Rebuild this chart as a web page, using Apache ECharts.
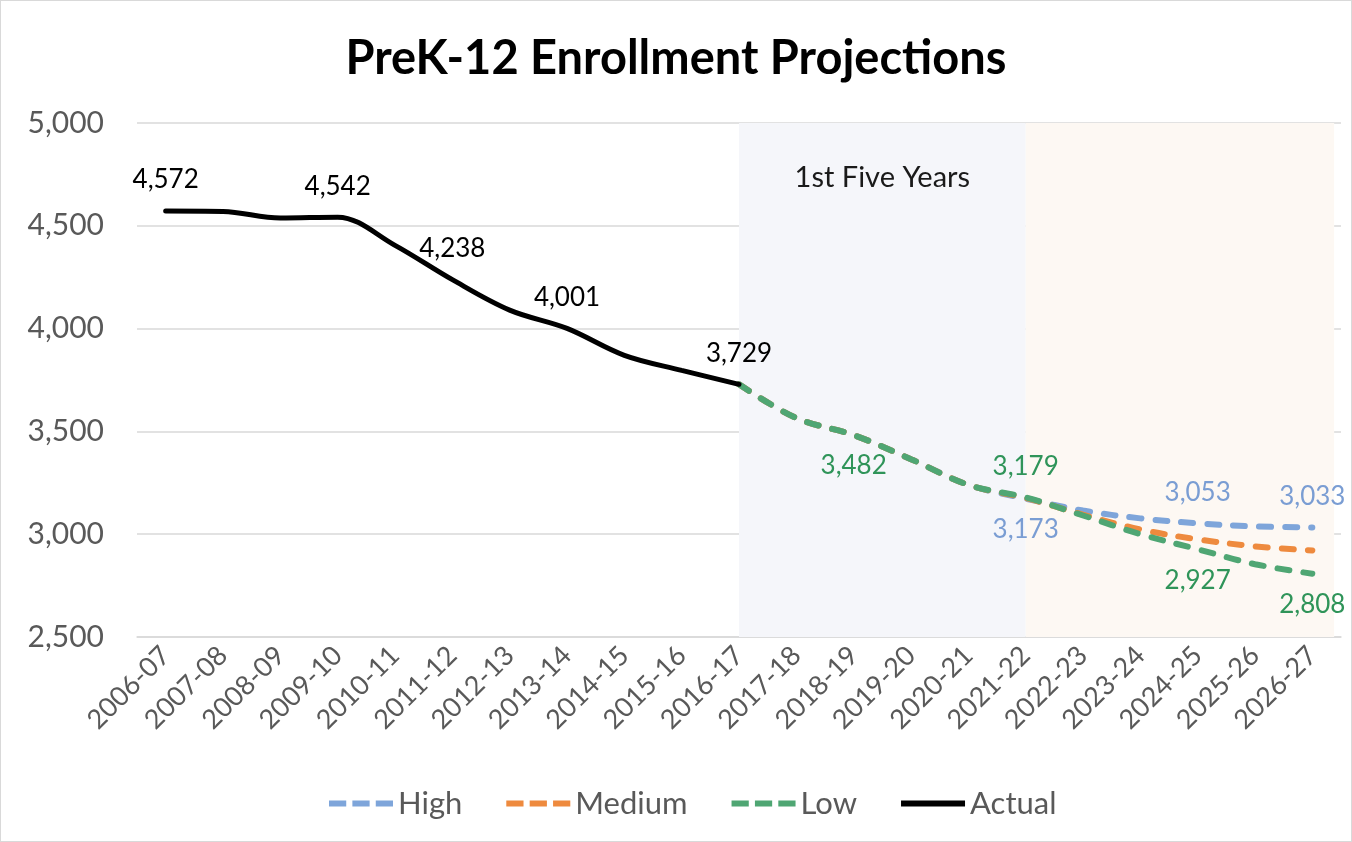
<!DOCTYPE html>
<html>
<head>
<meta charset="utf-8">
<script src="https://cdn.jsdelivr.net/npm/echarts@6/dist/echarts.min.js"></script>
<style>
    html, body { margin: 0; padding: 0; background: #fff; }
    #chart { width: 1352px; height: 842px; box-sizing: border-box; border: 1px solid #d9d9d9; }
</style>
</head>
<body>
<div id="chart"></div>
<script>
const categories = ['2006-07', '2007-08', '2008-09', '2009-10', '2010-11', '2011-12', '2012-13',
    '2013-14', '2014-15', '2015-16', '2016-17', '2017-18', '2018-19', '2019-20', '2020-21',
    '2021-22', '2022-23', '2023-24', '2024-25', '2025-26', '2026-27'];

const actual = [4572, 4570, 4538, 4542, 4405, 4238, 4090, 4001, 3870, 3797, 3729,
    null, null, null, null, null, null, null, null, null, null];

const high = [null, null, null, null, null, null, null, null, null, null,
    3729, 3565, 3482, 3365, 3240, 3173, 3115, 3077, 3053, 3038, 3033];
const medium = [null, null, null, null, null, null, null, null, null, null,
    3729, 3565, 3482, 3365, 3240, 3176, 3095, 3023, 2975, 2941, 2921];
const low = [null, null, null, null, null, null, null, null, null, null,
    3729, 3565, 3482, 3365, 3240, 3179, 3091, 3000, 2927, 2854, 2808];

// which points carry a value label, and on which side
const actualLabels = {'2006-07': 'top', '2009-10': 'top', '2011-12': 'top', '2013-14': 'top', '2016-17': 'top'};
const highLabels = {'2021-22': 'bottom', '2024-25': 'top', '2026-27': 'top'};
const lowLabels = {'2018-19': 'bottom', '2021-22': 'top', '2024-25': 'bottom', '2026-27': 'bottom'};

const firstFive = ['2016-17', '2021-22'];
const laterYears = ['2021-22', '2026-27'];

const FONT = 'Lato, "Open Sans", sans-serif';
const fmt = v => v.toLocaleString('en-US');

function withLabels(values, picks, color) {
    return values.map((v, i) => {
        const pos = picks[categories[i]];
        if (v == null || !pos) return v;
        return {
            value: v,
            label: {show: true, position: pos, distance: 18, color, fontSize: 26, fontFamily: FONT,
                formatter: p => fmt(p.value)}
        };
    });
}

function dashed(name, color, values) {
    return {
        name, type: 'line', smooth: 0.35, data: values,
        symbol: 'circle', symbolSize: 0, showSymbol: true,
        itemStyle: {color},
        lineStyle: {color, width: 6, type: [12, 14], cap: 'round'},
        emphasis: {disabled: true},
        z: 3
    };
}

const dashIcon = 'path://M0,0h14v5h-14z M19,0h14v5h-14z M38,0h14v5h-14z';
const lineIcon = 'path://M0,0h52v5h-52z';

const chart = echarts.init(document.getElementById('chart'));
chart.setOption({
    animation: false,
    title: {
        text: 'PreK-12 Enrollment Projections',
        left: 'center', top: 29,
        textStyle: {fontFamily: FONT, fontWeight: 'bold', fontSize: 47, color: '#000'}
    },
    grid: {left: 136, right: 10, top: 122, bottom: 204},
    legend: {
        left: 323, top: 782,
        itemWidth: 64, itemHeight: 7, itemGap: 44,
        textStyle: {fontFamily: FONT, fontSize: 31, color: '#595959'},
        data: [
            {name: 'High', icon: dashIcon},
            {name: 'Medium', icon: dashIcon},
            {name: 'Low', icon: dashIcon},
            {name: 'Actual', icon: lineIcon}
        ]
    },
    xAxis: [{
        type: 'category',
        data: categories,
        boundaryGap: true,
        axisLine: {lineStyle: {color: '#d9d9d9', width: 1.5}},
        axisTick: {alignWithLabel: true, length: 6, lineStyle: {color: '#d9d9d9', width: 1.5}},
        axisLabel: {rotate: 45, fontFamily: FONT, fontSize: 27, color: '#595959', margin: 14, interval: 0}
    }, {
        type: 'value', min: -0.5, max: categories.length - 0.5, show: false
    }],
    yAxis: {
        type: 'value', min: 2500, max: 5000, interval: 500,
        axisLine: {show: false}, axisTick: {show: false},
        splitLine: {lineStyle: {color: '#d9d9d9', width: 1.5}},
        axisLabel: {fontFamily: FONT, fontSize: 30, color: '#595959', margin: 33, formatter: fmt}
    },
    series: [
        {
            name: 'bands', type: 'line', xAxisIndex: 1, data: [], silent: true,
            markArea: {
                silent: true,
                data: [
                    [{xAxis: categories.indexOf(firstFive[0]),
                        itemStyle: {color: '#f5f6fa'},
                        label: {show: true, position: 'insideTop', distance: 40, formatter: '1st Five Years',
                            fontFamily: FONT, fontSize: 29, color: '#1a1a1a'}},
                     {xAxis: categories.indexOf(firstFive[1])}],
                    [{xAxis: categories.indexOf(laterYears[0]), itemStyle: {color: '#fdf8f3'}, label: {show: false}},
                     {xAxis: categories.indexOf(laterYears[1]) + 0.38}]
                ]
            },
            z: 1
        },
        dashed('High', '#7ea5da', withLabels(high, highLabels, '#7a9dd3')),
        dashed('Medium', '#ee8a3e', medium),
        dashed('Low', '#4fa673', withLabels(low, lowLabels, '#2f9459')),
        {
            name: 'Actual', type: 'line', smooth: 0.35,
            data: withLabels(actual, actualLabels, '#000'),
            symbol: 'circle', symbolSize: 0, showSymbol: true,
            itemStyle: {color: '#000'},
            lineStyle: {color: '#000', width: 5, cap: 'round'},
            emphasis: {disabled: true},
            z: 4
        }
    ]
});
</script>
</body>
</html>
